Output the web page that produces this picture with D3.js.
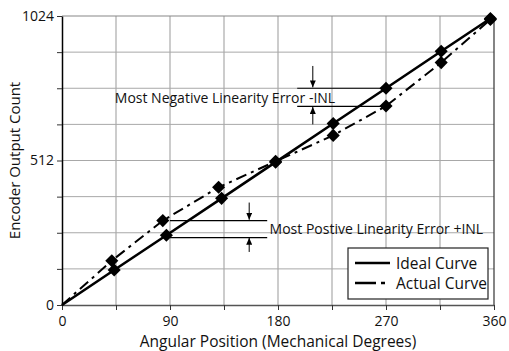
<!DOCTYPE html>
<html>
<head>
<meta charset="utf-8">
<script src="https://cdn.jsdelivr.net/npm/d3@7"></script>
<style>
body { margin: 0; background: #fff; }
text { font-family: "Open Sans", sans-serif; font-size: 14px; fill: #111; }
</style>
</head>
<body>
<svg id="chart" width="509" height="351"></svg>
<script>
// ideal curve points (angle in degrees, encoder count)
var idealDeg   = [0, 43.5, 87, 133, 178, 226, 270, 316, 357];
var idealCount = [0, 124, 247, 378, 506, 643, 768, 899, 1015];
// actual curve points
var actualDeg   = [0, 41.5, 84, 130.5, 178, 226, 270, 316, 357];
var actualCount = [0, 157, 299, 417, 509, 601, 705, 859, 1012];

var xTicks = [0, 45, 90, 135, 180, 225, 270, 315, 360];
var xLabels = [0, 90, 180, 270, 360];
var yTicks = [0, 128, 256, 384, 512, 640, 768, 896, 1024];
var yLabels = [0, 512, 1024];

// annotation lines / arrows, in data units
var negLines  = [{a0: 196, a1: 267.5, c: 768}, {a0: 196, a1: 267.5, c: 704}];
var negArrows = [{a: 209, from: 847, to: 771}, {a: 209, from: 640, to: 702}];
var posLines  = [{a0: 90, a1: 171, c: 299}, {a0: 90, a1: 171, c: 239}];
var posArrows = [{a: 156, from: 363, to: 302}, {a: 156, from: 188, to: 238}];

var svg = d3.select("#chart"),
    W = +svg.attr("width"),
    H = +svg.attr("height"),
    margin = {top: 16, right: 15, bottom: 46, left: 62};

var x = d3.scaleLinear().domain([0, 360]).range([margin.left, W - margin.right]);
var y = d3.scaleLinear().domain([0, 1024]).range([H - margin.bottom, margin.top]);

svg.append("defs").append("marker")
    .attr("id", "arr")
    .attr("viewBox", "0 -3 7 6")
    .attr("refX", 7).attr("refY", 0)
    .attr("markerWidth", 7).attr("markerHeight", 6)
    .attr("markerUnits", "userSpaceOnUse")
    .attr("orient", "auto")
    .append("path").attr("d", "M0,-3L7,0L0,3Z").attr("fill", "#000");

// grid
var grid = svg.append("g");
grid.selectAll(".vg").data(xTicks.slice(1, -1)).enter().append("line")
    .attr("x1", d => x(d)).attr("x2", d => x(d))
    .attr("y1", y(0)).attr("y2", y(1024))
    .attr("stroke", "#999").attr("stroke-width", 1);
grid.selectAll(".hg").data(yTicks.slice(1, -1)).enter().append("line")
    .attr("x1", x(0)).attr("x2", x(360))
    .attr("y1", d => y(d)).attr("y2", d => y(d))
    .attr("stroke", "#a8a8a8").attr("stroke-width", 1);
// top and right frame
grid.append("line").attr("x1", x(0)).attr("x2", x(360)).attr("y1", y(1024)).attr("y2", y(1024))
    .attr("stroke", "#888").attr("stroke-width", 1.2);
grid.append("line").attr("x1", x(360)).attr("x2", x(360)).attr("y1", y(1024)).attr("y2", y(0))
    .attr("stroke", "#333").attr("stroke-width", 1.2);

// axes
var xAxis = svg.append("g").attr("transform", "translate(0," + y(0) + ")")
    .call(d3.axisBottom(x).tickValues(xTicks).tickSize(5).tickSizeOuter(0)
        .tickFormat(d => xLabels.indexOf(d) >= 0 ? d : ""));
xAxis.select(".domain").attr("stroke", "#555").attr("stroke-width", 1.5);
xAxis.selectAll(".tick line").attr("stroke", "#333");
xAxis.selectAll("text").attr("font-size", 14.5).attr("dy", "0.95em").attr("fill", "#111")
    .attr("font-family", "Open Sans");

var yAxis = svg.append("g").attr("transform", "translate(" + x(0) + ",0)")
    .call(d3.axisLeft(y).tickValues(yTicks).tickSize(5).tickSizeOuter(0)
        .tickFormat(d => yLabels.indexOf(d) >= 0 ? d : ""));
yAxis.select(".domain").attr("stroke", "#000").attr("stroke-width", 1.5);
yAxis.selectAll(".tick line").attr("stroke", "#333");
yAxis.selectAll("text").attr("font-size", 14.5).attr("fill", "#111").attr("x", -8)
    .attr("font-family", "Open Sans");

// axis titles
svg.append("text")
    .attr("x", (x(0) + x(360)) / 2).attr("y", H - 4)
    .attr("text-anchor", "middle").style("font-size", "15.5px")
    .text("Angular Position (Mechanical Degrees)");
svg.append("text")
    .attr("transform", "translate(20," + (y(0) + y(1024)) / 2 + ") rotate(-90)")
    .attr("text-anchor", "middle").style("font-size", "15px")
    .text("Encoder Output Count");

// curves
var line = d3.line().x(d => x(d[0])).y(d => y(d[1]));
var idealPts = d3.zip(idealDeg, idealCount);
var actualPts = d3.zip(actualDeg, actualCount);

svg.append("path").datum(actualPts).attr("d", line)
    .attr("fill", "none").attr("stroke", "#000").attr("stroke-width", 2)
    .attr("stroke-dasharray", "11,5,3,5");
svg.append("path").datum(idealPts).attr("d", line)
    .attr("fill", "none").attr("stroke", "#000").attr("stroke-width", 2.6);

var diamond = d3.symbol().type(d3.symbolSquare).size(86);
svg.selectAll(".mk").data(idealPts.slice(1).concat(actualPts.slice(1))).enter().append("path")
    .attr("d", diamond)
    .attr("transform", d => "translate(" + x(d[0]) + "," + y(d[1]) + ") rotate(45)")
    .attr("fill", "#000");

// annotations
function annotate(lines, arrows) {
    svg.append("g").selectAll("line").data(lines).enter().append("line")
        .attr("x1", d => x(d.a0)).attr("x2", d => x(d.a1))
        .attr("y1", d => y(d.c)).attr("y2", d => y(d.c))
        .attr("stroke", "#000").attr("stroke-width", 1.2);
    svg.append("g").selectAll("line").data(arrows).enter().append("line")
        .attr("x1", d => x(d.a)).attr("x2", d => x(d.a))
        .attr("y1", d => y(d.from)).attr("y2", d => y(d.to))
        .attr("stroke", "#000").attr("stroke-width", 1)
        .attr("marker-end", "url(#arr)");
}
annotate(negLines, negArrows);
annotate(posLines, posArrows);

svg.append("text").attr("x", x(44)).attr("y", y(715))
    .text("Most Negative Linearity Error -INL");
svg.append("text").attr("x", x(173)).attr("y", y(252))
    .text("Most Postive Linearity Error +INL");

// legend
var lg = svg.append("g").attr("transform", "translate(" + (x(360) - 146) + "," + (y(0) - 57) + ")");
lg.append("rect").attr("width", 140).attr("height", 51)
    .attr("fill", "#fff").attr("stroke", "#222").attr("stroke-width", 1.2);
var legendItems = ["Ideal Curve", "Actual Curve"];
legendItems.forEach(function(name, i) {
    var ly = 15 + i * 20;
    lg.append("line").attr("x1", 7).attr("x2", 42).attr("y1", ly).attr("y2", ly)
        .attr("stroke", "#000").attr("stroke-width", 2.6)
        .attr("stroke-dasharray", i ? "21,5,4" : null);
    lg.append("text").attr("x", 48).attr("y", ly + 5.5).style("font-size", "15.5px").text(name);
});
</script>
</body>
</html>
